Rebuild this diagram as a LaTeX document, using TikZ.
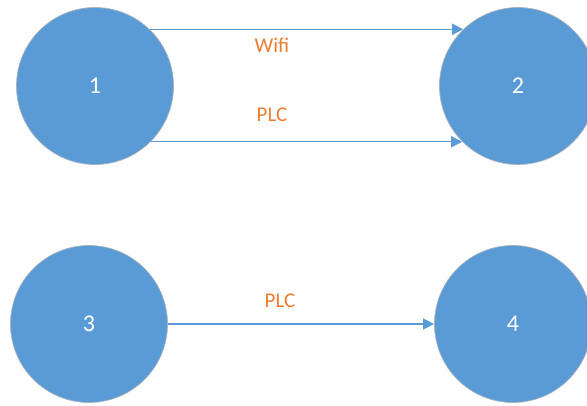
\documentclass[tikz,border=0pt]{standalone}
\usepackage{fontspec}
\setmainfont{Carlito}
\usetikzlibrary{arrows.meta}
\definecolor{officeblue}{RGB}{91,155,213}
\definecolor{officeorange}{RGB}{237,125,49}
\definecolor{rimgray}{RGB}{170,180,190}
\tikzset{
  station/.style={circle, fill=officeblue, draw=rimgray, line width=0.7pt,
    minimum size=157pt, inner sep=0pt, text=white, font=\fontsize{24}{24}\selectfont},
  link/.style={draw=officeblue, line width=1.3pt, -{Triangle[length=11pt,width=11pt]}},
  linklabel/.style={text=officeorange, font=\fontsize{21}{21}\selectfont, inner sep=0pt}
}
\begin{document}
\begin{tikzpicture}[x=1pt,y=-1pt]
\useasboundingbox (0,0) rectangle (587,405);
\clip (0,0) rectangle (587,405);
\node[station] (n1) at (95,86) {1};
\node[station] (n2) at (518,86) {2};
\node[station] (n3) at (89,324) {3};
\node[station] (n4) at (513,324) {4};
\draw[link] (n1.46) -- (n2.134);
\draw[link] (n1.-45) -- (n2.-135);
\draw[link] (n3) -- (n4);
\node[linklabel] (l1) at (272,45) {Wifi};
\node[linklabel] (l2) at (272,115) {PLC};
\node[linklabel] (l3) at (280,301) {PLC};
\end{tikzpicture}
\end{document}
